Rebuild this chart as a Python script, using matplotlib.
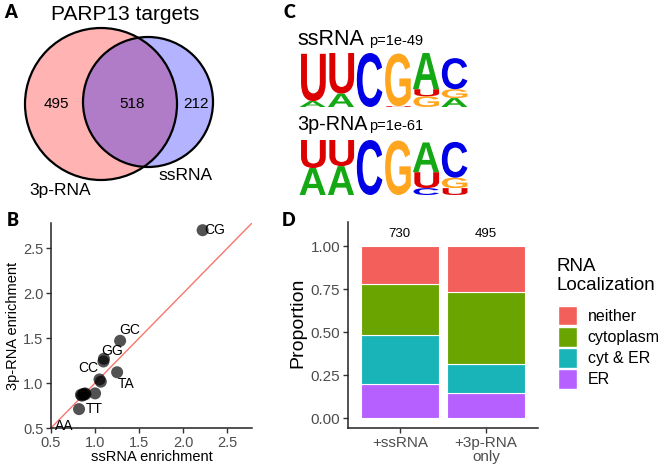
import numpy as np
import matplotlib
matplotlib.use('Agg')
import matplotlib.pyplot as plt
from matplotlib.patches import Circle, Patch, PathPatch
from matplotlib.textpath import TextPath
from matplotlib.font_manager import FontProperties
from matplotlib.path import Path

plt.rcParams['font.family'] = ['Liberation Sans', 'DejaVu Sans']

# ---------------- data ----------------
venn_title = "PARP13 targets"
venn_sets = ["3p-RNA", "ssRNA"]
venn_counts = [495, 518, 212]  # 3p-RNA only, both, ssRNA only

ss_enrich = [2.22, 1.284, 1.10, 1.095, 1.05, 1.065, 1.25, 0.818, 0.84, 0.867, 0.886, 0.87, 0.85, 0.89, 1.00, 0.45]
p3_enrich = [2.70, 1.47, 1.27, 1.24, 1.04, 1.015, 1.12, 0.71, 0.87, 0.878, 0.885, 0.87, 0.86, 0.875, 0.885, 0.47]
dinuc_labels = ["CG", "GC", "GG", "", "CC", "", "TA", "TT", "", "", "", "", "", "", "", "AA"]
label_offsets = {"CG": (12, 0), "GC": (10, 11), "GG": (8, 8), "CC": (-11, 11),
                 "TA": (9, -12), "TT": (15, 0), "AA": (18, 5)}

logo_titles = ["ssRNA", "3p-RNA"]
logo_pvals = ["p=1e-49", "p=1e-61"]
# each position: list of (letter, height in bits), bottom to top
logo_ss = [
    [("A", 0.22), ("U", 1.75)],
    [("A", 0.50), ("U", 1.50)],
    [("C", 2.00)],
    [("U", 0.03), ("G", 1.95)],
    [("G", 0.40), ("U", 0.26), ("A", 1.34)],
    [("A", 0.33), ("G", 0.33), ("C", 1.15)],
]
logo_3p = [
    [("A", 0.98), ("U", 1.02)],
    [("A", 1.05), ("U", 0.95)],
    [("C", 2.00)],
    [("G", 1.98)],
    [("C", 0.25), ("U", 0.58), ("A", 1.08)],
    [("U", 0.25), ("G", 0.38), ("C", 1.30)],
]
letter_colors = {"A": "#14A814", "C": "#0000E6", "G": "#FFA51E", "U": "#DC0000"}

groups = ["+ssRNA", "+3p-RNA\nonly"]
group_n = ["730", "495"]
loc_title = "RNA\nLocalization"
loc_names = ["neither", "cytoplasm", "cyt & ER", "ER"]
loc_colors = ["#F35F5B", "#6AA400", "#19B4B8", "#B660FF"]
# fractions per group, bottom to top: ER, cyt & ER, cytoplasm, neither
frac_ER = [0.198, 0.145]
frac_cytER = [0.285, 0.169]
frac_cyto = [0.296, 0.419]
frac_neither = [0.221, 0.267]

# ---------------- figure ----------------
W, H = 660, 467
fig = plt.figure(figsize=(W / 100, H / 100), dpi=100)

def px_axes(x0, y0, x1, y1):
    """axes from pixel box (top-left origin)"""
    return fig.add_axes([x0 / W, 1 - y1 / H, (x1 - x0) / W, (y1 - y0) / H])

# panel labels
for lab, (x, y) in zip("ABCD", [(11, 12), (13, 221), (289, 13), (289, 221)]):
    fig.text(x / W, 1 - y / H, lab, fontsize=13, fontweight='heavy', family='Lato',
             ha='center', va='center')

# ---------------- A: Venn ----------------
axA = px_axes(0, 0, 260, 230)
axA.set_xlim(0, 260)
axA.set_ylim(230, 0)
axA.axis('off')
c1 = Circle((101, 104), 76, facecolor='#FFB3B3', edgecolor='none')
c2 = Circle((148, 102), 65, facecolor='#B3B3FF', edgecolor='none')
axA.add_patch(c1)
axA.add_patch(c2)
inter = Circle((148, 102), 65, facecolor='#B07CC7', edgecolor='none')
axA.add_patch(inter)
inter.set_clip_path(c1)
axA.add_patch(Circle((101, 104), 76, facecolor='none', edgecolor='black', lw=1.6))
axA.add_patch(Circle((148, 102), 65, facecolor='none', edgecolor='black', lw=1.6))
axA.text(125, 14, venn_title, fontsize=15, ha='center', va='center')
for (x, y), n in zip([(56, 104), (132, 104), (196, 104)], venn_counts):
    axA.text(x, y, str(n), fontsize=11, ha='center', va='center')
axA.text(60, 190, venn_sets[0], fontsize=12.5, ha='center', va='center')
axA.text(186, 175, venn_sets[1], fontsize=12.5, ha='center', va='center')

# ---------------- B: scatter ----------------
axB = px_axes(51, 223, 252, 428)
axB.set_xlim(0.5, 2.78)
axB.set_ylim(0.5, 2.78)
axB.axline((0.5, 0.5), slope=1, color='#F8766D', lw=1.0, zorder=1)
axB.scatter(ss_enrich, p3_enrich, s=75, color='black', alpha=0.68, edgecolors='none', zorder=2)
for x, y, lab in zip(ss_enrich, p3_enrich, dinuc_labels):
    if lab:
        axB.annotate(lab, (x, y), xytext=label_offsets[lab], textcoords='offset pixels',
                     fontsize=10, ha='center', va='center', annotation_clip=False)
ticksB = [0.5, 1.0, 1.5, 2.0, 2.5]
axB.set_xticks(ticksB)
axB.set_yticks(ticksB)
axB.set_xticklabels([f"{t:.1f}" for t in ticksB])
axB.set_yticklabels([f"{t:.1f}" for t in ticksB])
axB.set_xlabel("ssRNA enrichment", fontsize=10.5, va='center')
axB.set_ylabel("3p-RNA enrichment", fontsize=10.5, va='center')
axB.xaxis.set_label_coords(0.5, -0.141)
axB.yaxis.set_label_coords(-0.189, 0.5)

def classic(ax, size):
    for s in ['top', 'right']:
        ax.spines[s].set_visible(False)
    for s in ['left', 'bottom']:
        ax.spines[s].set_linewidth(1.1)
        ax.spines[s].set_color('#222222')
    ax.tick_params(length=3.5, width=1.0, color='#333333', labelsize=size,
                   labelcolor='#4D4D4D', pad=2)

classic(axB, 10.5)

# ---------------- C: sequence logos ----------------
fp = FontProperties(family='Liberation Sans', weight='bold')

def draw_letter(ax, ch, x0, x1, y0, y1, color):
    tp = TextPath((0, 0), ch, size=1, prop=fp)
    v = tp.vertices.copy()
    bx0, by0 = v.min(axis=0)
    bx1, by1 = v.max(axis=0)
    v[:, 0] = x0 + (v[:, 0] - bx0) / (bx1 - bx0) * (x1 - x0)
    v[:, 1] = y0 + (v[:, 1] - by0) / (by1 - by0) * (y1 - y0)
    ax.add_patch(PathPatch(Path(v, tp.codes), facecolor=color, edgecolor='none'))

def draw_logo(ax, logo):
    ax.set_xlim(0.5, len(logo) + 0.5)
    ax.set_ylim(0, 2)
    ax.axis('off')
    for i, col in enumerate(logo, start=1):
        bottom = 0.0
        for ch, h in col:
            draw_letter(ax, ch, i - 0.48, i + 0.48, bottom, bottom + h, letter_colors[ch])
            bottom += h

axC1 = px_axes(298, 53, 468, 107)
draw_logo(axC1, logo_ss)
axC2 = px_axes(298, 140, 468, 195)
draw_logo(axC2, logo_3p)
for ybase, title, pv, fs in [(45, logo_titles[0], logo_pvals[0], 15.5),
                             (130, logo_titles[1], logo_pvals[1], 14.2)]:
    fig.text(297 / W, 1 - ybase / H, title, fontsize=fs, ha='left', va='baseline')
    fig.text(369 / W, 1 - ybase / H, pv, fontsize=10.5, ha='left', va='baseline')

# ---------------- D: stacked bars ----------------
axD = px_axes(348, 222, 538, 428)
xpos = np.arange(1, len(groups) + 1)
layers = [frac_ER, frac_cytER, frac_cyto, frac_neither]
layer_cols = [loc_colors[3], loc_colors[2], loc_colors[1], loc_colors[0]]
bottom = np.zeros(len(groups))
for vals, c in zip(layers, layer_cols):
    axD.bar(xpos, vals, bottom=bottom, width=0.9, color=c, edgecolor='white', linewidth=0.8)
    bottom += np.array(vals)
for x, n in zip(xpos, group_n):
    axD.text(x, 1.07, n, fontsize=9.5, ha='center', va='center')
axD.set_xlim(0.4, 2.6)
axD.set_ylim(-0.058, 1.14)
axD.set_yticks([0, 0.25, 0.5, 0.75, 1.0])
axD.set_yticklabels(["0.00", "0.25", "0.50", "0.75", "1.00"])
axD.set_xticks(xpos)
axD.set_xticklabels(groups, linespacing=1.0)
axD.set_ylabel("Proportion", fontsize=14, va='center')
axD.yaxis.set_label_coords(-0.263, 0.51)
classic(axD, 11)

fig.text(557 / W, 1 - 258 / H, loc_title, fontsize=13.5, ha='left', va='top', linespacing=1.15)
handles = [Patch(facecolor=c, edgecolor='white', lw=1) for c in loc_colors]
leg = fig.legend(handles, loc_names, loc='upper left',
                 bbox_to_anchor=(558 / W, 1 - 306 / H), frameon=False, fontsize=11.5,
                 handlelength=1.2, handleheight=1.5,
                 labelspacing=0.1, handletextpad=0.65, borderpad=0, borderaxespad=0)

fig.savefig('out.png', dpi=100)
